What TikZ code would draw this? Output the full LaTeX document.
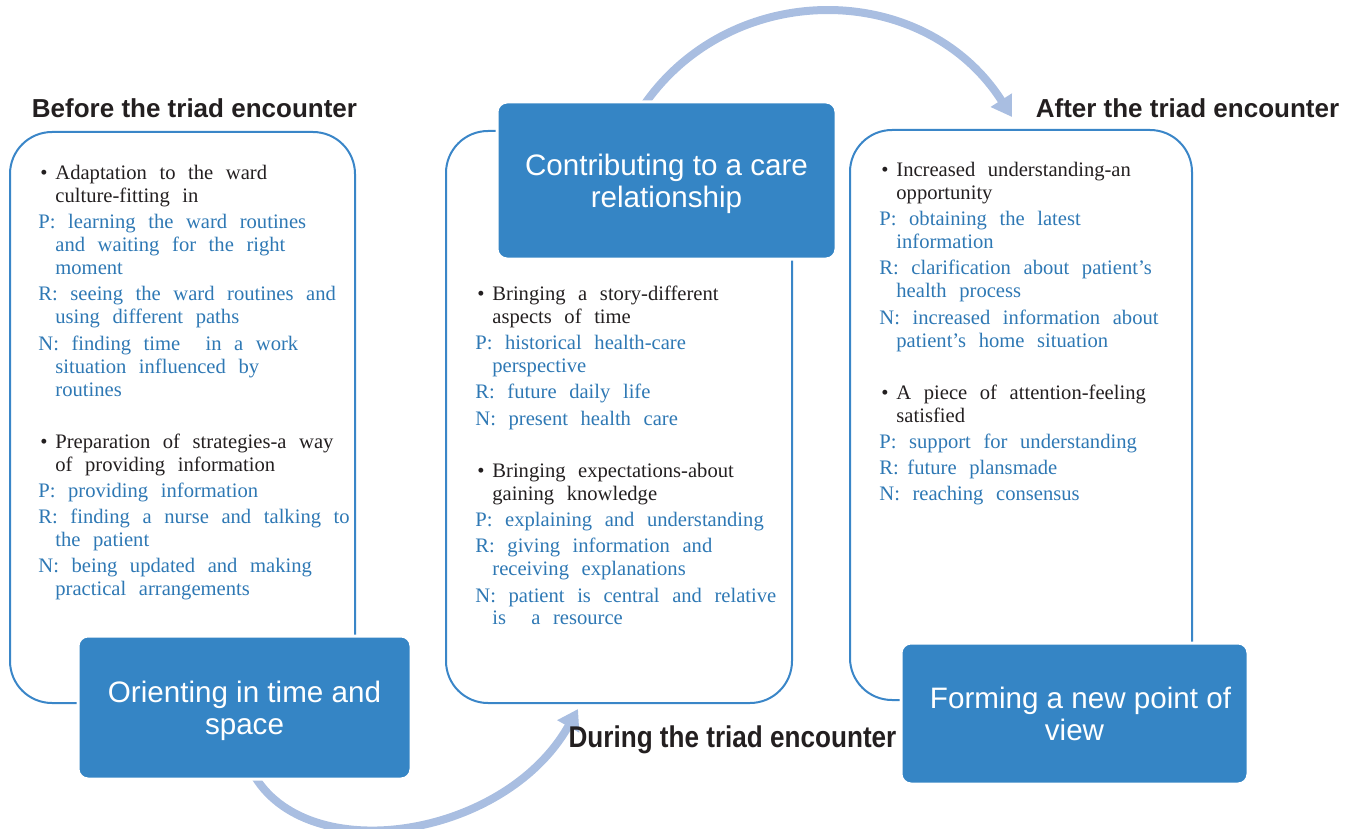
\documentclass[tikz,border=0pt]{standalone}
\usepackage{fontspec}
\setmainfont{Liberation Serif}
\setsansfont{Liberation Sans}
\usetikzlibrary{arrows.meta,positioning,backgrounds}

\definecolor{boxblue}{RGB}{53,133,197}
\definecolor{lineblue}{RGB}{58,134,200}
\definecolor{textblue}{RGB}{46,120,180}
\definecolor{arrowblue}{RGB}{169,190,225}
\definecolor{darktext}{RGB}{35,31,32}

\newcommand{\bodytext}{\fontsize{10.3}{11.5}\selectfont\spaceskip=6.3pt\relax
  \parskip=1.6pt\parindent=0pt\color{darktext}}
\newcommand{\mainpoint}[1]{\par\hangindent=8.5pt\hangafter=1\noindent
  \makebox[8.5pt][l]{\hspace{1pt}\textbullet}\strut#1\par}
\newcommand{\subpoint}[1]{\par\hangindent=8.5pt\hangafter=1\noindent
  {\color{textblue}\strut#1}\par}
\newcommand{\pointgap}{\vspace{13pt}}

\begin{document}
\begin{tikzpicture}[x=0.5pt, y=-0.5pt,
    phase/.style={rectangle, draw=lineblue, line width=1pt, rounded corners=21pt},
    theme/.style={rectangle, fill=boxblue, draw=white, line width=1.5pt,
        rounded corners=5pt, text=white, align=center,
        font=\sffamily\fontsize{14.8}{16}\selectfont},
    heading/.style={font=\sffamily\bfseries\fontsize{13}{15}\selectfont,
        text=darktext, inner sep=0pt},
    findings/.style={text width=175pt, inner sep=0pt, anchor=north west},
    flow/.style={draw=arrowblue, line width=4pt, -{Triangle[length=10pt,width=12pt]}}
]
\useasboundingbox (0,0) rectangle (1355,829);

\node (Before) [phase, minimum width=172.5pt, minimum height=285.5pt] at (182.5,417.5) {};
\node (During) [phase, minimum width=173pt, minimum height=286pt] at (619,417) {};
\node (After) [phase, minimum width=171pt, minimum height=285pt] at (1021,415) {};

\node (BeforeTitle) [heading] at (194.5,108) {Before the triad encounter};
\node (AfterTitle) [heading] at (1187.5,108) {After the triad encounter};
\node (DuringTitle) [heading, font=\sffamily\bfseries\fontsize{15}{18}\selectfont]
    at (732.5,740) {\scalebox{0.87}[1]{During the triad encounter}};

\node (BeforeFindings) [findings] at (38,153) {\bodytext
  \mainpoint{Adaptation to the ward\newline culture-fitting in}
  \subpoint{P: learning the ward routines\newline and waiting for the right\newline moment}
  \subpoint{R: seeing the ward routines and\newline using different paths}
  \subpoint{N: finding time\ \ in a work\newline situation influenced by\newline routines}
  \pointgap
  \mainpoint{Preparation of strategies-a way\newline of providing information}
  \subpoint{P: providing information}
  \subpoint{R: finding a nurse and talking to\newline the patient}
  \subpoint{N: being updated and making\newline practical arrangements}};

\node (DuringFindings) [findings] at (475,274) {\bodytext
  \mainpoint{Bringing a story-different\newline aspects of time}
  \subpoint{P: historical health-care\newline perspective}
  \subpoint{R: future daily life}
  \subpoint{N: present health care}
  \pointgap
  \mainpoint{Bringing expectations-about\newline gaining knowledge}
  \subpoint{P: explaining and understanding}
  \subpoint{R: giving information and\newline receiving explanations}
  \subpoint{N: patient is central and relative\newline is\ \ a resource}};

\node (AfterFindings) [findings] at (879,150) {\bodytext
  \mainpoint{Increased understanding-an\newline opportunity}
  \subpoint{P: obtaining the latest\newline information}
  \subpoint{R: clarification about patient's\newline health process}
  \subpoint{N: increased information about\newline patient's home situation}
  \pointgap
  \mainpoint{A piece of attention-feeling\newline satisfied}
  \subpoint{P: support for understanding}
  \subpoint{R:\hspace{-2pt} future plansmade}
  \subpoint{N: reaching consensus}};

\node (Orienting) [theme, minimum width=166.5pt, minimum height=71.5pt]
    at (244.5,707.5) {\rule{0pt}{14pt}Orienting in time and\\space};
\node (Contributing) [theme, minimum width=169.5pt, minimum height=78.5pt]
    at (666.5,180.5) {\rule{0pt}{14pt}Contributing to a care\\relationship};
\node (Forming) [theme, minimum width=173.5pt, minimum height=70.5pt]
    at (1074.5,713.5) {\hspace{6pt}Forming a new point of\\view};

\begin{scope}[on background layer]
\draw [flow] ([xshift=4pt,yshift=4pt]Orienting.south)
    .. controls +(53,97) and +(-73,130) .. ([xshift=-20.5pt,yshift=-2.5pt]During.south);
\draw [flow] ([xshift=-11.75pt,yshift=-3pt]Contributing.north)
    .. controls +(87,-128) and +(-88,-138) .. ([xshift=-4.5pt,yshift=6pt]After.north);
\end{scope}

\end{tikzpicture}
\end{document}
